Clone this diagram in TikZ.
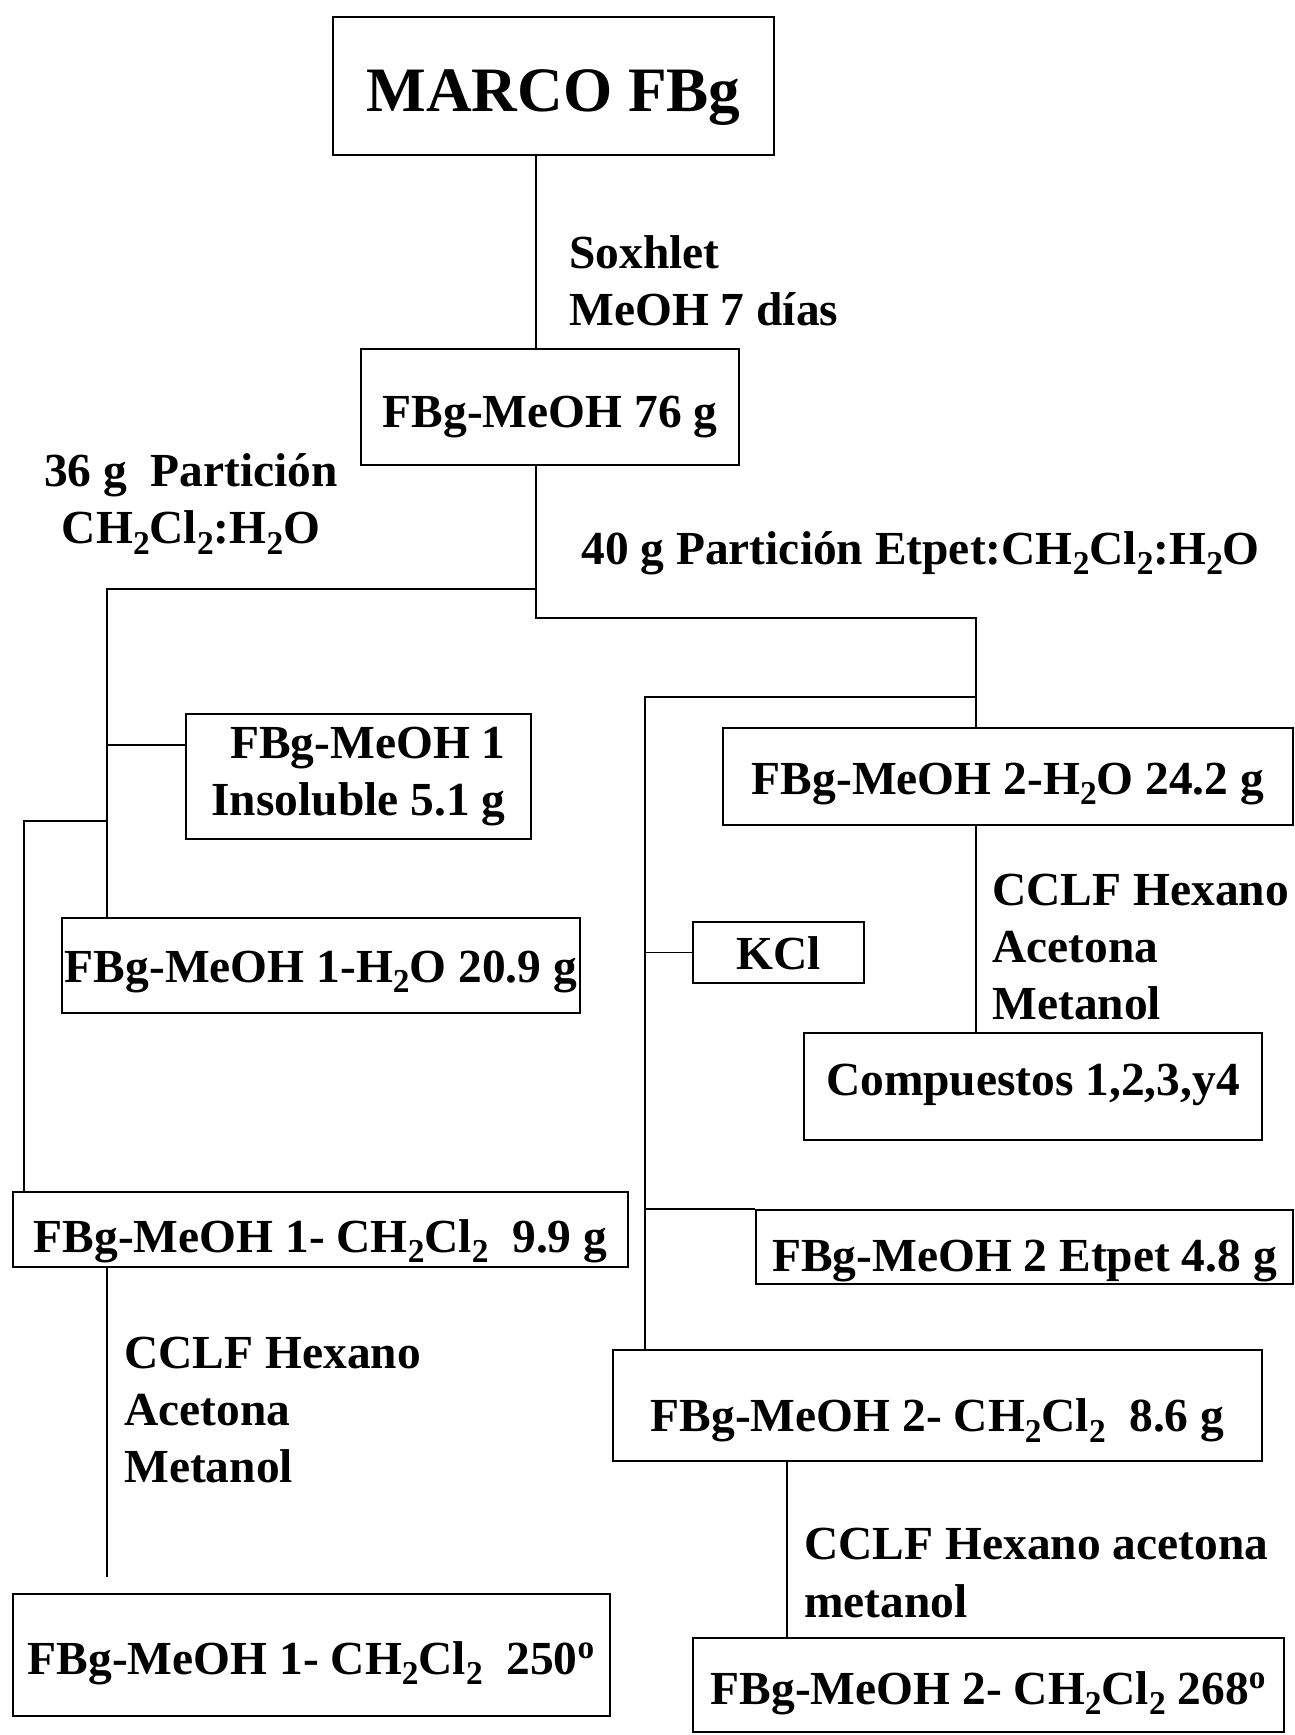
\documentclass[tikz,border=0pt]{standalone}
\usepackage{fontspec}
\setmainfont{Liberation Serif}
\newcommand{\chsub}[1]{\raisebox{-6pt}{\fontsize{19}{19}\selectfont #1}}
\begin{document}
\begin{tikzpicture}[x=0.02cm,y=-0.02cm,
    every node/.style={font=\fontsize{27}{32.6}\selectfont\bfseries},
    box/.style={draw,line width=1.5pt,inner sep=0pt},
    mid/.style={text height=#1,text depth=0pt},
    link/.style={line width=1pt},
    note/.style={anchor=west,align=left,inner sep=0pt}]
    \useasboundingbox (0,0) rectangle (1295,1735);
    \node[box,mid=29pt,minimum width=8.82cm,minimum height=2.76cm,font=\fontsize{36}{40}\selectfont\bfseries] (marco) at (553.5,86) {MARCO FBg};
    \node[box,mid=23pt,minimum width=7.56cm,minimum height=2.32cm] (m76) at (550,407) {FBg-MeOH 76 g};
    \node[box,minimum width=6.9cm,minimum height=2.5cm,align=right] (ins) at (358.5,776.5) {FBg-MeOH 1\\Insoluble 5.1 g};
    \node[box,mid=19pt,minimum width=10.36cm,minimum height=1.9cm] (h2o1) at (321,965.5) {FBg-MeOH 1-H\chsub{2}O 20.9 g};
    \node[box,mid=19pt,minimum width=3.42cm,minimum height=1.22cm] (kcl) at (778.5,952.5) {KCl};
    \node[box,mid=20pt,minimum width=11.4cm,minimum height=1.94cm] (h2o2) at (1008,776.5) {FBg-MeOH 2-H\chsub{2}O 24.2 g};
    \node[box,mid=10pt,minimum width=9.16cm,minimum height=2.14cm] (comp) at (1033,1086.5) {Compuestos 1,2,3,y4};
    \node[box,mid=28pt,minimum width=10.74cm,minimum height=1.48cm] (etp) at (1024.5,1247) {FBg-MeOH 2 Etpet 4.8 g};
    \node[box,mid=26pt,minimum width=12.3cm,minimum height=1.5cm] (ch1) at (320.5,1229.5) {FBg-MeOH 1- CH\chsub{2}Cl\chsub{2}~~9.9 g};
    \node[box,mid=22pt,minimum width=11.94cm,minimum height=2.44cm] (fin1) at (311.5,1655) {FBg-MeOH 1- CH\chsub{2}Cl\chsub{2}~~250\textsuperscript{o}};
    \node[box,mid=30pt,minimum width=12.98cm,minimum height=2.22cm] (ch2) at (937.5,1405.5) {FBg-MeOH 2- CH\chsub{2}Cl\chsub{2}~~8.6 g};
    \node[box,mid=22pt,minimum width=11.82cm,minimum height=1.88cm] (fin2) at (988.5,1685) {FBg-MeOH 2- CH\chsub{2}Cl\chsub{2} 268\textsuperscript{o}};

    \coordinate (t1) at (536,618); \coordinate (t2) at (536,589);
    \coordinate (l1) at (107,589); \coordinate (l2) at (107,745);
    \coordinate (l3) at (107,821); \coordinate (l4) at (24,821);
    \coordinate (r1) at (976,618); \coordinate (r2) at (976,697);
    \coordinate (r3) at (645,697); \coordinate (r4) at (787,1500);
    \coordinate (e1) at (107,1577);

    \draw[link] (marco.south -| t1) -- (m76.north -| t1);
    \draw[link] (m76.south -| t1) -- (t1) -- (r1) -- (h2o2.north -| r1);
    \draw[link] (t2) -- (l1) -- (h2o1.north -| l1);
    \draw[link] (l2) -- (l2 -| ins.west);
    \draw[link] (l3) -- (l4) -- (l4 |- ch1.north);
    \draw[link] (r2) -- (r3) -- (r3 |- ch2.north);
    \draw[link] (r3 |- kcl.west) -- (kcl.west);
    \draw[link] (r3 |- etp.north) -- (etp.north west);
    \draw[link] (h2o2.south -| r1) -- (comp.north -| r1);
    \draw[link] (ch1.south -| l1) -- (e1);
    \draw[link] (ch2.south -| r4) -- (fin2.north -| r4);

    \node[note] (sox) at (569,281) {Soxhlet\\MeOH 7 días};
    \node[align=center,inner sep=0pt] (p36) at (191,504) {36 g~~Partición\\CH\chsub{2}Cl\chsub{2}:H\chsub{2}O};
    \node[note] (p40) at (581,553) {40 g Partición Etpet:CH\chsub{2}Cl\chsub{2}:H\chsub{2}O};
    \node[note] (cclf2) at (992,947) {CCLF Hexano\\Acetona\\Metanol};
    \node[note] (cclf1) at (124,1410) {CCLF Hexano\\Acetona\\Metanol};
    \node[note] (cclf3) at (804,1573) {CCLF Hexano acetona\\metanol};
\end{tikzpicture}
\end{document}
